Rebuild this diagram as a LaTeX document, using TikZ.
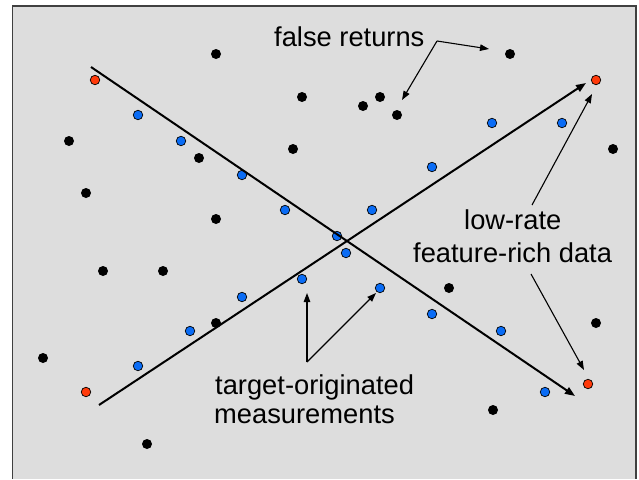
\documentclass[tikz,border=0pt]{standalone}
\usepackage{fontspec}
\setmainfont{Liberation Sans}
\usetikzlibrary{arrows.meta}
\definecolor{bg}{HTML}{DDDDDD}
\definecolor{framec}{HTML}{404040}
\definecolor{tblue}{HTML}{0A6CF5}
\definecolor{tred}{HTML}{FF3A0A}
\tikzset{
  blackdot/.style={circle,fill=black,minimum size=10pt,inner sep=0pt},
  bluedot/.style={circle,fill=tblue,draw=black,line width=0.7pt,minimum size=9.5pt,inner sep=0pt},
  reddot/.style={circle,fill=tred,draw=black,line width=0.7pt,minimum size=9.5pt,inner sep=0pt},
  track/.style={line width=2pt,-{Triangle[length=10pt,width=7.5pt]}},
  note/.style={line width=1.1pt,-{Triangle[length=9pt,width=6.5pt]}},
  label/.style={anchor=base west,inner sep=0pt,font=\fontsize{27.3}{32}\selectfont},
}
\begin{document}
\begin{tikzpicture}[x=1pt,y=-1pt]
\useasboundingbox (0,0) rectangle (639,479);
\fill[bg] (12.5,6) rectangle (636,479);
\draw[framec,line width=1.6pt] (12.5,479) -- (12.5,6) -- (636,6) -- (636,479);
% black dots (false returns)
\foreach \x/\y [count=\i] in {216/54, 302/97, 69/141, 199/158, 86/193, 293/149, 216/219,
  510/54, 363/106, 380/97, 397/115, 613/149, 103/271, 163/271, 216/323, 43/358, 147/444,
  449/288, 596/323, 493/410}
  \node[blackdot] (k\i) at (\x,\y) {};
% blue dots (target-originated)
\foreach \x/\y [count=\i] in {138/115, 181/141, 242/175, 285/210, 337/236, 346/253, 380/288,
  432/314, 501/331, 545/392, 138/366, 190/331, 242/297, 302/279, 372/210, 432/167, 492/123, 562/123}
  \node[bluedot] (b\i) at (\x,\y) {};
% red dots
\node[reddot] (r1) at (95,80) {};
\node[reddot] (r2) at (596,80) {};
\node[reddot] (r3) at (86,392) {};
\node[reddot] (r4) at (588,384) {};
% track lines
\coordinate (t1s) at (91,67);
\coordinate (t1e) at (575,396);
\coordinate (t2s) at (99,405);
\coordinate (t2e) at (586,83);
\draw[track] (t1s) -- (t1e);
\draw[track] (t2s) -- (t2e);
% labels
\node[label] (fr) at (274,46.7) {false returns};
\node[label] (lr) at (464,229) {low-rate};
\node[label] (fd) at (413,262) {feature-rich data};
\node[label] (to) at (215,394) {target-originated};
\node[label] (me) at (214,423) {measurements};
% annotation arrows
\coordinate (frk) at (437,41);
\coordinate (fra) at (489,49);
\coordinate (frb) at (402,100);
\draw[note] (frk) -- (fra);
\draw[note] (frk) -- (frb);
\coordinate (lra) at (532,205);
\coordinate (lrb) at (592,94);
\draw[note] (lra) -- (lrb);
\coordinate (fda) at (531,274);
\coordinate (fdb) at (584,370);
\draw[note] (fda) -- (fdb);
\coordinate (tok) at (307,362);
\coordinate (toa) at (307,293);
\coordinate (tob) at (376,293);
\draw[note] (tok) -- (toa);
\draw[note] (tok) -- (tob);
\end{tikzpicture}
\end{document}
